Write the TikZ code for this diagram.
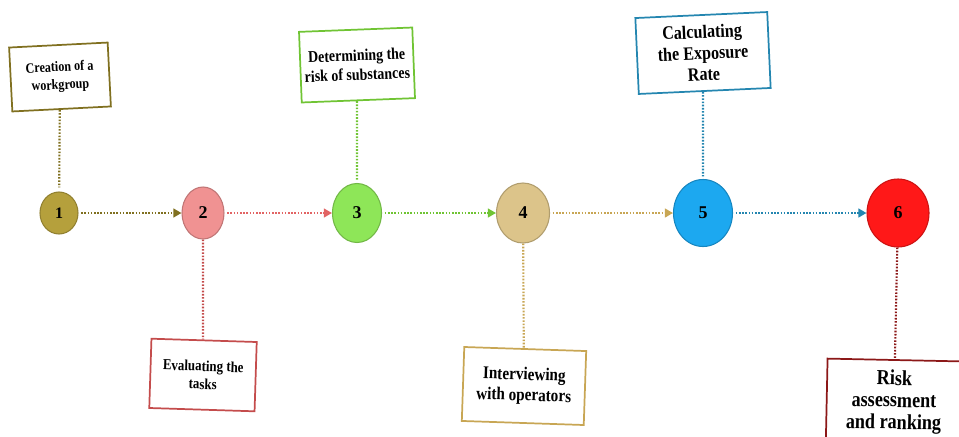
\documentclass[tikz,border=0pt]{standalone}
\usepackage{fontspec}
\setmainfont{Liberation Serif}
\newfontfamily\narrowfont[FakeStretch=0.85]{Liberation Serif}
\usetikzlibrary{shapes.geometric,arrows.meta}

\definecolor{oliveA}{RGB}{181,160,60}
\definecolor{oliveB}{RGB}{128,112,32}
\definecolor{pinkA}{RGB}{240,146,146}
\definecolor{pinkB}{RGB}{226,100,100}
\definecolor{redB}{RGB}{196,76,76}
\definecolor{greenA}{RGB}{142,230,88}
\definecolor{greenB}{RGB}{112,196,52}
\definecolor{tanA}{RGB}{220,196,138}
\definecolor{tanB}{RGB}{200,166,84}
\definecolor{blueA}{RGB}{28,168,240}
\definecolor{blueB}{RGB}{36,134,176}
\definecolor{redA}{RGB}{255,24,24}
\definecolor{maroonB}{RGB}{140,24,24}

\begin{document}
\begin{tikzpicture}[x=0.75pt,y=-0.75pt,
  stage/.style={ellipse,fill=#1,draw=#1!80!black,line width=0.8pt,inner sep=0pt,font=\fontsize{13.5}{13.5}\bfseries\selectfont},
  taskbox/.style={draw=#1,line width=1.3pt,fill=white,align=center,inner sep=1pt},
  link/.style={draw=#1,line width=1.6pt,dash pattern=on 1.2pt off 1.2pt},
  feed/.style={link=#1,-{Triangle[length=6pt,width=6.5pt]},shorten <=2pt}]

\useasboundingbox (0,0) rectangle (959,436);

\node[stage=oliveA,minimum width=28.5pt,minimum height=31.5pt,font=\fontsize{12}{12}\bfseries\selectfont] (c1) at (59,213) {1};
\node[stage=pinkA,minimum width=31.5pt,minimum height=39pt] (c2) at (203,213) {2};
\node[stage=greenA,minimum width=36.75pt,minimum height=44.25pt] (c3) at (357,213) {3};
\node[stage=tanA,minimum width=39.75pt,minimum height=45pt] (c4) at (523,213) {4};
\node[stage=blueA,minimum width=44.25pt,minimum height=50.25pt] (c5) at (703,213) {5};
\node[stage=redA,minimum width=46.5pt,minimum height=51pt] (c6) at (898,213) {6};

\node[taskbox=oliveB,minimum width=74pt,minimum height=48pt,rotate=2.9,
  font=\narrowfont\bfseries\fontsize{10.7}{13.5}\selectfont] (b1) at (60,77) {Creation of a\\workgroup};
\node[taskbox=redB,minimum width=79pt,minimum height=52pt,rotate=-1.8,
  font=\narrowfont\bfseries\fontsize{11.4}{13.5}\selectfont] (b2) at (203,375) {Evaluating the\\tasks};
\node[taskbox=greenB,minimum width=85pt,minimum height=53pt,rotate=2.2,
  font=\narrowfont\bfseries\fontsize{12.3}{14.5}\selectfont] (b3) at (357,65) {Determining the\\risk of substances};
\node[taskbox=tanB,minimum width=91.5pt,minimum height=55.5pt,rotate=-1.9,
  font=\narrowfont\bfseries\fontsize{13.4}{15.5}\selectfont] (b4) at (524,386) {Interviewing\\with operators};
\node[taskbox=blueB,minimum width=99pt,minimum height=57pt,rotate=2.6,
  font=\narrowfont\bfseries\fontsize{14.2}{16}\selectfont] (b5) at (703,53) {Calculating\\the Exposure\\Rate};
\node[taskbox=maroonB,minimum width=101pt,minimum height=63pt,rotate=-1.2,
  font=\narrowfont\bfseries\fontsize{16}{16.5}\selectfont] (b6) at (894,402) {Risk\\assessment\\and ranking};

\draw[link=oliveB,shorten >=3pt] (b1) -- (c1);
\draw[link=redB] (c2) -- (b2);
\draw[link=greenB,shorten >=2pt] (b3) -- (c3);
\draw[link=tanB] (c4) -- (b4);
\draw[link=blueB,shorten >=2pt] (b5) -- (c5);
\draw[link=maroonB] (c6) -- (b6);

\draw[feed=oliveB] (c1) -- (c2);
\draw[feed=pinkB] (c2) -- (c3);
\draw[feed=greenB] (c3) -- (c4);
\draw[feed=tanB] (c4) -- (c5);
\draw[feed=blueB] (c5) -- (c6);

\end{tikzpicture}
\end{document}
